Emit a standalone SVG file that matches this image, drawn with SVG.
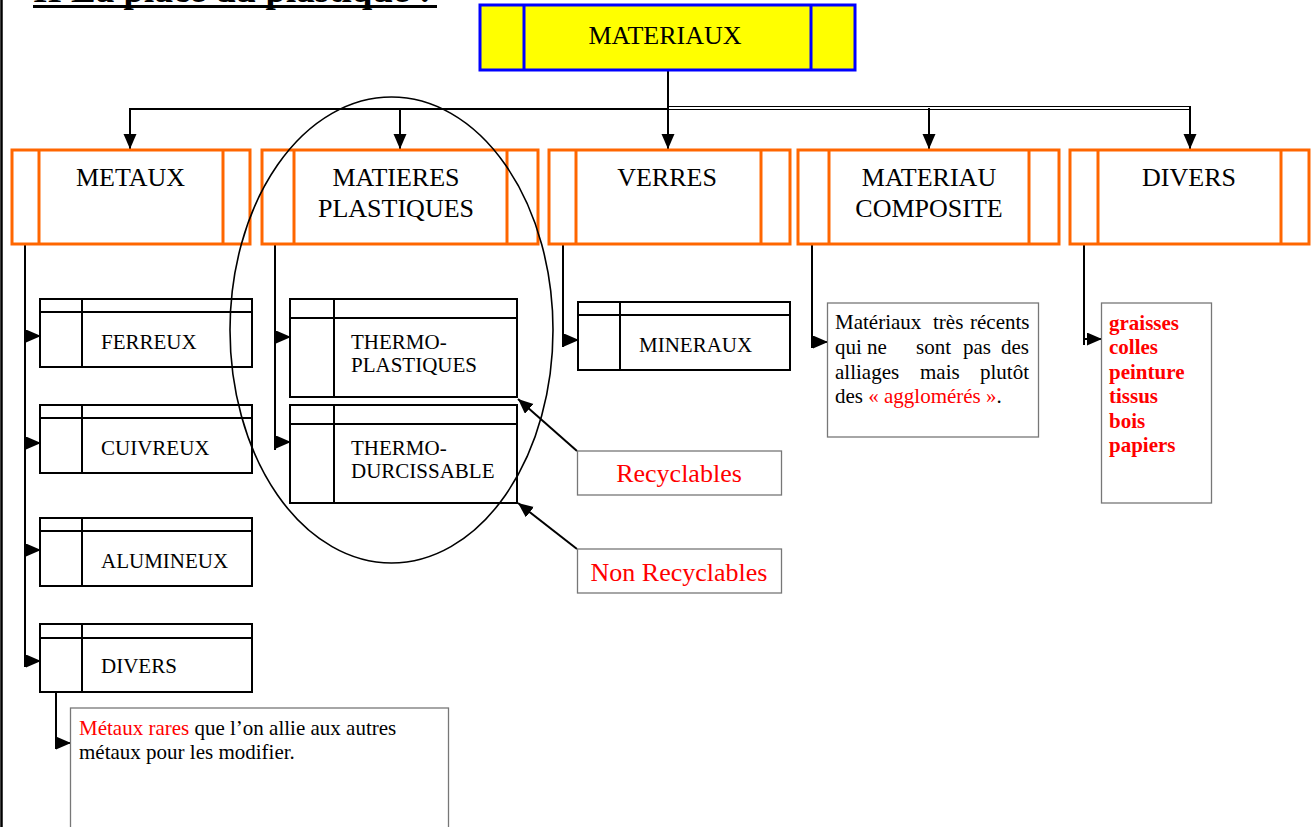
<svg xmlns="http://www.w3.org/2000/svg" width="1316" height="827" viewBox="0 0 1316 827">
<defs>
<marker id="ah" markerUnits="userSpaceOnUse" markerWidth="16" markerHeight="14" refX="15" refY="6.5" orient="auto">
<path d="M0,0 L15,6.5 L0,13 z" fill="#000"/>
</marker>
<style>
text{font-family:"Liberation Serif","Times New Roman",serif;}
.big{font-size:26px;fill:#000;}
.sm{font-size:21px;fill:#000;}
.red{fill:#FF0000;}
.ob{fill:#fff;stroke:#FF6600;stroke-width:3;}
.ol{stroke:#FF6600;stroke-width:3;}
.sb{fill:#fff;stroke:#000;stroke-width:2;}
.sl{stroke:#000;stroke-width:2;}
.gb{fill:#fff;stroke:#777;stroke-width:1.3;}
.c{fill:none;stroke:#000;stroke-width:2;}
.ca{fill:none;stroke:#000;stroke-width:2;marker-end:url(#ah);}
</style>
</defs>
<rect x="0" y="0" width="1316" height="827" fill="#fff"/>
<line x1="1.5" y1="0" x2="1.5" y2="827" stroke="#000" stroke-width="2.5"/>
<g id="title">
<text x="33" y="2" font-size="37" font-weight="bold" textLength="398" lengthAdjust="spacingAndGlyphs">II La place du plastique :</text>
<rect x="33" y="5" width="404" height="3" fill="#000"/>
</g>

<g id="connectors">
<line x1="668" y1="68" x2="668" y2="108" class="c"/>
<line x1="130" y1="109" x2="668" y2="109" class="c" stroke-width="1.8"/>
<line x1="668" y1="106.5" x2="1191" y2="106.5" stroke="#000" stroke-width="1.2"/>
<line x1="668" y1="109.5" x2="1191" y2="109.5" stroke="#000" stroke-width="1.2"/>
<line x1="130" y1="108" x2="130" y2="149" class="ca"/>
<line x1="400" y1="108" x2="400" y2="149" class="ca"/>
<line x1="668" y1="108" x2="668" y2="149" class="ca"/>
<line x1="929" y1="108" x2="929" y2="149" class="ca"/>
<line x1="1190" y1="106" x2="1190" y2="149" class="ca"/>
<path d="M25,245 V667" class="c"/>
<path d="M25,336 H41" class="ca"/>
<path d="M25,443 H41" class="ca"/>
<path d="M25,550 H41" class="ca"/>
<path d="M25,661 H41" class="ca"/>
<path d="M56,692 V749" class="c"/>
<path d="M56,743 H71" class="ca"/>
<path d="M275,245 V450" class="c"/>
<path d="M275,337 H291" class="ca"/>
<path d="M275,442 H291" class="ca"/>
<path d="M563,245 V347" class="c"/>
<path d="M563,340 H579" class="ca"/>
<path d="M812,245 V348" class="c"/>
<path d="M812,342 H828" class="ca"/>
<path d="M1084,245 V345" class="c"/>
<path d="M1084,339 H1102" class="ca"/>
<path d="M577,451 L518,399" class="ca"/>
<path d="M577,549 L518,503" class="ca"/>
</g>

<g id="materiaux">
<rect x="480" y="5" width="375" height="65" fill="#FFFF00" stroke="#0000FF" stroke-width="3"/>
<line x1="524" y1="5" x2="524" y2="70" stroke="#0000FF" stroke-width="3"/>
<line x1="811" y1="5" x2="811" y2="70" stroke="#0000FF" stroke-width="3"/>
<text x="665" y="44" class="big" text-anchor="middle">MATERIAUX</text>
</g>

<g id="metaux">
<rect x="12" y="150" width="238" height="94" class="ob"/>
<line x1="39" y1="150" x2="39" y2="244" class="ol"/>
<line x1="223" y1="150" x2="223" y2="244" class="ol"/>
<text x="130.5" y="186" class="big" text-anchor="middle">METAUX</text>
</g>
<g id="matieres-plastiques">
<rect x="262" y="150" width="276" height="94" class="ob"/>
<line x1="294" y1="150" x2="294" y2="244" class="ol"/>
<line x1="507" y1="150" x2="507" y2="244" class="ol"/>
<text x="396" y="186" class="big" text-anchor="middle">MATIERES</text>
<text x="396" y="217" class="big" text-anchor="middle">PLASTIQUES</text>
</g>
<g id="verres">
<rect x="549" y="150" width="241" height="94" class="ob"/>
<line x1="576" y1="150" x2="576" y2="244" class="ol"/>
<line x1="761" y1="150" x2="761" y2="244" class="ol"/>
<text x="667" y="186" class="big" text-anchor="middle">VERRES</text>
</g>
<g id="materiau-composite">
<rect x="798" y="150" width="261" height="94" class="ob"/>
<line x1="829" y1="150" x2="829" y2="244" class="ol"/>
<line x1="1029" y1="150" x2="1029" y2="244" class="ol"/>
<text x="929" y="186" class="big" text-anchor="middle">MATERIAU</text>
<text x="929" y="217" class="big" text-anchor="middle">COMPOSITE</text>
</g>
<g id="divers">
<rect x="1070" y="150" width="239" height="94" class="ob"/>
<line x1="1098" y1="150" x2="1098" y2="244" class="ol"/>
<line x1="1281" y1="150" x2="1281" y2="244" class="ol"/>
<text x="1189" y="186" class="big" text-anchor="middle">DIVERS</text>
</g>

<g id="ferreux">
<rect x="40" y="299" width="212" height="68" class="sb"/>
<line x1="40" y1="312" x2="252" y2="312" class="sl"/>
<line x1="82" y1="299" x2="82" y2="367" class="sl"/>
<text x="101" y="349" class="sm">FERREUX</text>
</g>
<g id="cuivreux">
<rect x="40" y="405" width="212" height="68" class="sb"/>
<line x1="40" y1="418" x2="252" y2="418" class="sl"/>
<line x1="82" y1="405" x2="82" y2="473" class="sl"/>
<text x="101" y="455" class="sm">CUIVREUX</text>
</g>
<g id="alumineux">
<rect x="40" y="518" width="212" height="68" class="sb"/>
<line x1="40" y1="531" x2="252" y2="531" class="sl"/>
<line x1="82" y1="518" x2="82" y2="586" class="sl"/>
<text x="101" y="568" class="sm">ALUMINEUX</text>
</g>
<g id="divers-metaux">
<rect x="40" y="624" width="212" height="68" class="sb"/>
<line x1="40" y1="638" x2="252" y2="638" class="sl"/>
<line x1="82" y1="624" x2="82" y2="692" class="sl"/>
<text x="101" y="673" class="sm">DIVERS</text>
</g>
<g id="metaux-rares">
<rect x="70.5" y="708" width="378" height="130" class="gb"/>
<text x="79" y="735" class="sm"><tspan class="red">Métaux rares</tspan> que l’on allie aux autres</text>
<text x="79" y="759" class="sm">métaux pour les modifier.</text>
</g>

<g id="thermoplastiques">
<rect x="290" y="299" width="227" height="98" class="sb"/>
<line x1="290" y1="318" x2="517" y2="318" class="sl"/>
<line x1="334" y1="299" x2="334" y2="397" class="sl"/>
<text x="351" y="349" class="sm">THERMO-</text>
<text x="351" y="372" class="sm">PLASTIQUES</text>
</g>
<g id="thermodurcissable">
<rect x="290" y="405" width="227" height="98" class="sb"/>
<line x1="290" y1="424" x2="517" y2="424" class="sl"/>
<line x1="334" y1="405" x2="334" y2="503" class="sl"/>
<text x="351" y="455" class="sm">THERMO-</text>
<text x="351" y="478" class="sm">DURCISSABLE</text>
</g>
<g id="recyclables">
<rect x="577.5" y="451" width="204" height="44" class="gb"/>
<text x="679" y="482" class="big red" text-anchor="middle">Recyclables</text>
</g>
<g id="non-recyclables">
<rect x="577.5" y="549" width="204" height="44" class="gb"/>
<text x="679" y="581" class="big red" text-anchor="middle">Non Recyclables</text>
</g>

<g id="mineraux">
<rect x="578" y="302" width="212" height="68" class="sb"/>
<line x1="578" y1="315" x2="790" y2="315" class="sl"/>
<line x1="620" y1="302" x2="620" y2="370" class="sl"/>
<text x="639" y="352" class="sm">MINERAUX</text>
</g>

<g id="composite-texte">
<rect x="827.5" y="303" width="211" height="134" class="gb"/>
<text y="329" class="sm"><tspan x="835">Matériaux</tspan><tspan x="933">très</tspan><tspan x="970">récents</tspan></text>
<text y="354" class="sm"><tspan x="835">qui</tspan><tspan x="867">ne</tspan><tspan x="916">sont</tspan><tspan x="963">pas</tspan><tspan x="1001">des</tspan></text>
<text y="379" class="sm"><tspan x="835">alliages</tspan><tspan x="920">mais</tspan><tspan x="980">plutôt</tspan></text>
<text x="835" y="403" class="sm">des <tspan class="red">« agglomérés »</tspan>.</text>
</g>

<g id="divers-liste">
<rect x="1101.5" y="303" width="110" height="200" class="gb"/>
<text class="sm red" font-weight="bold">
<tspan x="1109" y="330">graisses</tspan>
<tspan x="1109" y="354">colles</tspan>
<tspan x="1109" y="379">peinture</tspan>
<tspan x="1109" y="403">tissus</tspan>
<tspan x="1109" y="428">bois</tspan>
<tspan x="1109" y="452">papiers</tspan>
</text>
</g>

<g id="ellipse">
<ellipse cx="391.5" cy="330" rx="161.5" ry="233" fill="none" stroke="#000" stroke-width="1.6"/>
</g>
</svg>
